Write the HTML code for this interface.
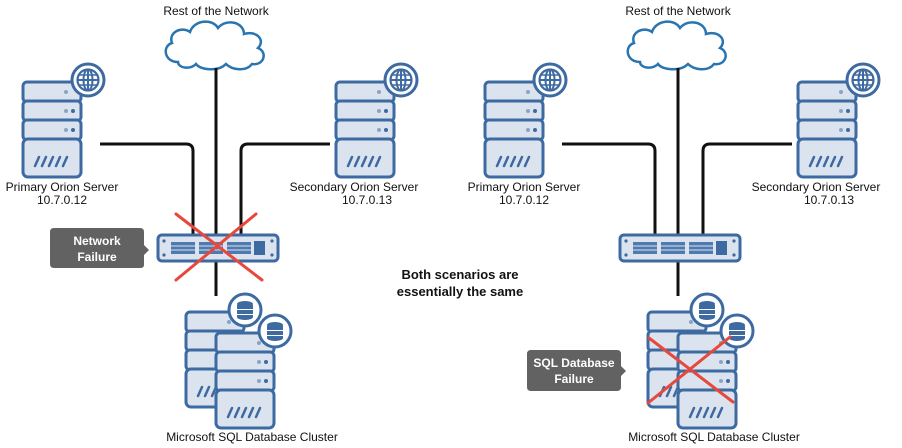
<!DOCTYPE html>
<html><head><meta charset="utf-8"><style>
html,body{margin:0;padding:0;background:#fff;}
svg{display:block;font-family:"Liberation Sans",Arial,sans-serif;}
</style></head><body>
<svg width="902" height="448" viewBox="0 0 902 448" xmlns="http://www.w3.org/2000/svg">
<defs>
<g id="srv">
  <rect x="0" y="0" width="58" height="20" rx="4" fill="#dbe3ee" stroke="#3e6aa2" stroke-width="3"/>
  <rect x="0" y="19" width="58" height="20" rx="4" fill="#dbe3ee" stroke="#3e6aa2" stroke-width="3"/>
  <rect x="0" y="38" width="58" height="20" rx="4" fill="#dbe3ee" stroke="#3e6aa2" stroke-width="3"/>
  <rect x="0" y="57" width="58" height="38" rx="5" fill="#dbe3ee" stroke="#3e6aa2" stroke-width="3"/>
  <circle cx="43" cy="10" r="2" fill="#8aa4c8"/>
  <circle cx="43" cy="29" r="2" fill="#8aa4c8"/><circle cx="50" cy="29" r="2" fill="#3e6aa2"/>
  <circle cx="43" cy="48" r="2" fill="#8aa4c8"/><circle cx="50" cy="48" r="2" fill="#3e6aa2"/>
  <g stroke="#3e6aa2" stroke-width="2.5" stroke-linecap="round">
    <line x1="12" y1="84" x2="16" y2="75"/><line x1="19" y1="84" x2="23" y2="75"/>
    <line x1="26" y1="84" x2="30" y2="75"/><line x1="33" y1="84" x2="37" y2="75"/>
    <line x1="40" y1="84" x2="44" y2="75"/>
  </g>
</g>
<g id="globe">
  <circle r="16" fill="#fff" stroke="#3e6aa2" stroke-width="3"/>
  <circle r="10.5" fill="none" stroke="#3e6aa2" stroke-width="2.2"/>
  <ellipse rx="4.5" ry="10.5" fill="none" stroke="#3e6aa2" stroke-width="2"/>
  <line x1="-10.5" y1="0" x2="10.5" y2="0" stroke="#3e6aa2" stroke-width="2"/>
  <line x1="0" y1="-10.5" x2="0" y2="10.5" stroke="#3e6aa2" stroke-width="2"/>
  <line x1="-9" y1="-5" x2="9" y2="-5" stroke="#3e6aa2" stroke-width="1.6"/>
  <line x1="-9" y1="5" x2="9" y2="5" stroke="#3e6aa2" stroke-width="1.6"/>
</g>
<g id="db">
  <circle r="16" fill="#fff" stroke="#3e6aa2" stroke-width="3"/>
  <ellipse cx="0" cy="-6" rx="8" ry="3" fill="#3e6aa2"/>
  <rect x="-8" y="-5" width="16" height="4" fill="#3e6aa2"/>
  <rect x="-8" y="0" width="16" height="4" fill="#3e6aa2"/>
  <path d="M-8 5 h16 v2 a8 3 0 0 1 -16 0z" fill="#3e6aa2"/>
</g>
<g id="cloud">
  <path d="M178 62 C164 62 162 46 172 43 C168 32 182 26 190 32 C194 20 212 18 218 28 C226 18 244 22 244 34 C256 30 266 40 258 48 C268 52 264 66 252 64 C246 72 232 70 226 64 C218 72 200 70 196 64 C190 70 178 68 178 62 Z" fill="#fff" stroke="#2a75b0" stroke-width="2.5"/>
</g>
<g id="switch">
  <rect x="158" y="235" width="120" height="26" rx="4" fill="#dbe3ee" stroke="#3e6aa2" stroke-width="3"/>
  <circle cx="164" cy="241" r="1.6" fill="#3e6aa2"/><circle cx="164" cy="255" r="1.6" fill="#3e6aa2"/>
  <circle cx="272" cy="241" r="1.6" fill="#3e6aa2"/><circle cx="272" cy="255" r="1.6" fill="#3e6aa2"/>
  <g fill="#4f7ab0">
    <rect x="171" y="242" width="24" height="12"/><rect x="199" y="242" width="24" height="12"/><rect x="227" y="242" width="24" height="12"/>
    <rect x="254" y="241" width="11" height="14" fill="#3e6aa2"/>
  </g>
  <g stroke="#dbe3ee" stroke-width="1"><line x1="171" y1="246" x2="251" y2="246"/><line x1="171" y1="250" x2="251" y2="250"/></g>
</g>
<g id="scene">
  <text x="216" y="15" font-size="12" text-anchor="middle" fill="#111">Rest of the Network</text>
  <use href="#cloud"/>
  <g fill="none" stroke="#111" stroke-width="3">
    <line x1="216" y1="68" x2="216" y2="296"/>
    <path d="M100 144 H186 Q193 144 193 151 V236"/>
    <path d="M330 144 H248 Q241 144 241 151 V236"/>
  </g>
  <use href="#switch"/>
  <use href="#srv" x="23" y="82"/>
  <use href="#globe" x="88" y="80"/>
  <text x="62" y="191" font-size="12" text-anchor="middle" fill="#111">Primary Orion Server</text>
  <text x="62" y="204" font-size="12" text-anchor="middle" fill="#111">10.7.0.12</text>
  <use href="#srv" x="336" y="82"/>
  <use href="#globe" x="401" y="80"/>
  <text x="354" y="191" font-size="12" text-anchor="middle" fill="#111">Secondary Orion Server</text>
  <text x="367" y="204" font-size="12" text-anchor="middle" fill="#111">10.7.0.13</text>
  <use href="#srv" x="186" y="312"/>
  <use href="#db" x="245" y="310"/>
  <use href="#srv" x="216" y="333"/>
  <use href="#db" x="275" y="331"/>
  <text x="252" y="441" font-size="12" text-anchor="middle" fill="#111">Microsoft SQL Database Cluster</text>
</g>
</defs>
<use href="#scene"/>
<use href="#scene" transform="translate(462,0)"/>
<g stroke="#e8483c" stroke-width="3" stroke-linecap="round">
  <line x1="176" y1="214" x2="262" y2="280"/><line x1="256" y1="214" x2="176" y2="280"/>
</g>
<path d="M54 228 H140 Q144 228 144 232 V245 L149 250 L144 255 V265 Q144 268 140 268 H54 Q50 268 50 264 V232 Q50 228 54 228Z" fill="#626262"/>
<text x="97" y="245" font-size="12" font-weight="bold" text-anchor="middle" fill="#fff">Network</text>
<text x="97" y="261" font-size="12" font-weight="bold" text-anchor="middle" fill="#fff">Failure</text>
<text x="460" y="279" font-size="13" font-weight="bold" text-anchor="middle" fill="#111">Both scenarios are</text>
<text x="460" y="296" font-size="13" font-weight="bold" text-anchor="middle" fill="#111">essentially the same</text>
<g stroke="#e8483c" stroke-width="3" stroke-linecap="round">
  <line x1="649" y1="338" x2="733" y2="402"/><line x1="730" y1="337" x2="648" y2="403"/>
</g>
<path d="M531 350 H617 Q621 350 621 354 V366 L626 371 L621 376 V387 Q621 391 617 391 H531 Q527 391 527 387 V354 Q527 350 531 350Z" fill="#626262"/>
<text x="574" y="367" font-size="12" font-weight="bold" text-anchor="middle" fill="#fff">SQL Database</text>
<text x="574" y="383" font-size="12" font-weight="bold" text-anchor="middle" fill="#fff">Failure</text>
</svg>
</body></html>
